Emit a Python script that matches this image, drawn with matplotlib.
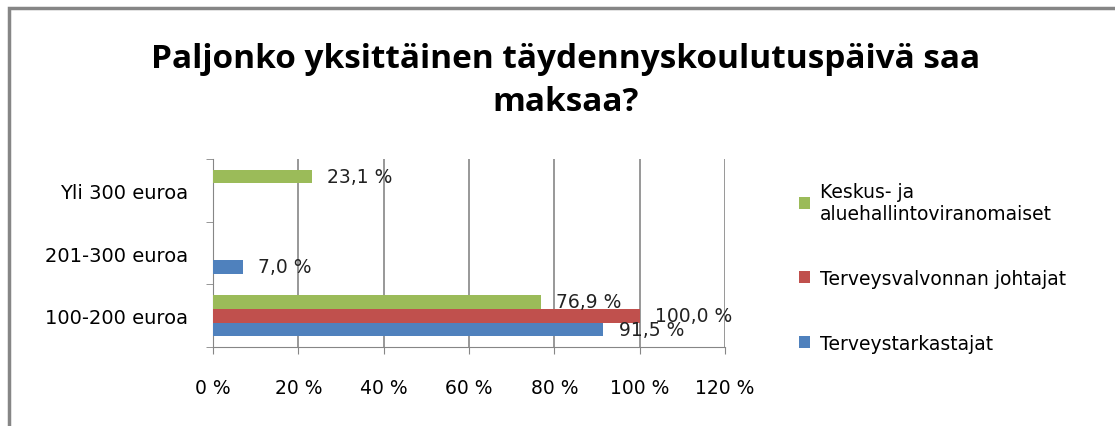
import matplotlib.pyplot as plt
from matplotlib.patches import Rectangle
import numpy as np

# Chart data
categories = ["100-200 euroa", "201-300 euroa", "Yli 300 euroa"]
series_names = ["Terveystarkastajat", "Terveysvalvonnan johtajat", "Keskus- ja\naluehallintoviranomaiset"]
terveystarkastajat = [91.5, 7.0, 0.0]
johtajat = [100.0, 0.0, 0.0]
keskus = [76.9, 0.0, 23.1]
xticks = [0, 20, 40, 60, 80, 100, 120]
xtick_labels = ["0 %", "20 %", "40 %", "60 %", "80 %", "100 %", "120 %"]
colors = ["#4f81bd", "#c0504d", "#9bbb59"]

plt.rcParams['font.family'] = ['DejaVu Sans']
fs = 13.5

fig = plt.figure(figsize=(11.15, 4.27), dpi=100)
ax = fig.add_axes([213 / 1115, 1 - 348 / 427, 512 / 1115, 188 / 427])

y = np.arange(len(categories))
h = 0.22
all_series = [terveystarkastajat, johtajat, keskus]
for i, (vals, col, name) in enumerate(zip(all_series, colors, series_names)):
    pos = y + (i - 1) * h
    ax.barh(pos, vals, height=h, color=col, label=name, zorder=3)
    for p, v in zip(pos, vals):
        if v > 0:
            ax.text(v + 3.6, p, f"{v:.1f} %".replace(".", ","), va="center", ha="left",
                    fontsize=fs, color="#222222", zorder=4)

ax.set_xlim(0, 120)
ax.set_ylim(-0.5, 2.5)
ax.set_xticks(xticks)
ax.set_xticklabels(xtick_labels, fontsize=fs)
ax.set_yticks(y)
ax.set_yticklabels(categories, fontsize=14)
ax.set_yticks([-0.5, 0.5, 1.5, 2.5], minor=True)
ax.tick_params(axis="y", which="major", length=0, pad=18)
ax.tick_params(axis="y", which="minor", length=5, color="#868686", direction="out")
ax.tick_params(axis="x", length=5, color="#868686", direction="out", pad=17)
ax.grid(axis="x", color="#868686", linewidth=1.2, zorder=0)
for s in ["top", "right"]:
    ax.spines[s].set_visible(False)
ax.spines["left"].set_color("#868686")
ax.spines["bottom"].set_color("#868686")

fig.text(0.507, 0.81, "Paljonko yksittäinen täydennyskoulutuspäivä saa\nmaksaa?",
         ha="center", va="center", fontsize=24, fontweight="bold", linespacing=1.38,
         family=['Open Sans', 'DejaVu Sans'])

handles, labels = ax.get_legend_handles_labels()
fig.legend(handles[::-1], labels[::-1], loc="upper left", bbox_to_anchor=(782 / 1115, 1 - 166 / 427),
           frameon=False, fontsize=fs, handlelength=0.6, handleheight=0.6, handletextpad=0.5,
           labelspacing=2.45)

fig.patches.append(Rectangle((9 / 1115, -0.1), 1.2, 1 - 9 / 427 + 0.1, transform=fig.transFigure,
                             fill=False, edgecolor="#868686", linewidth=2.5))

fig.savefig("out.png", dpi=100)
